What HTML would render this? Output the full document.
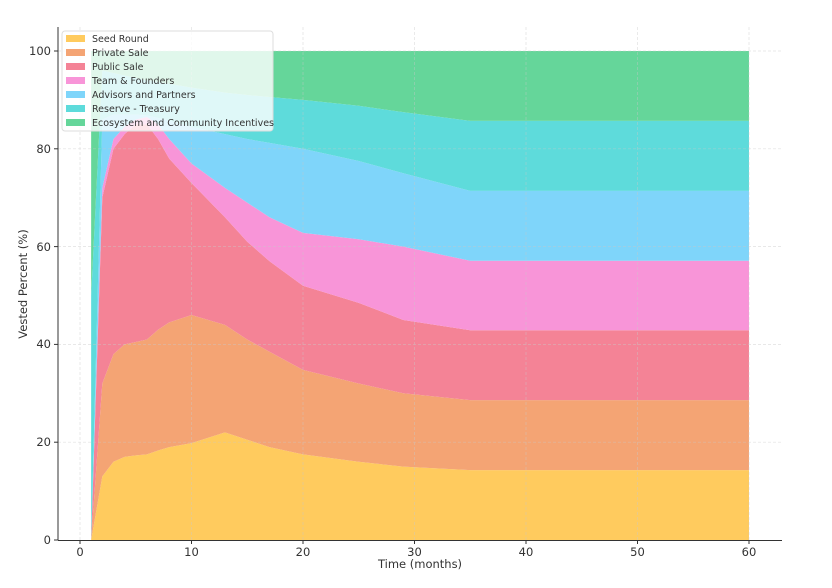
<!DOCTYPE html>
<html><head><meta charset="utf-8"><style>
body{margin:0;background:#fff;width:832px;height:583px;overflow:hidden;font-family:"Liberation Sans","DejaVu Sans",sans-serif}
</style></head><body>
<svg id="s" width="832" height="583" xmlns="http://www.w3.org/2000/svg" font-family="DejaVu Sans, Liberation Sans, sans-serif">
<g id="areas"></g>
<g stroke="#c8c8c8" stroke-width="0.7" stroke-dasharray="3,2" opacity="0.55">
<line x1="80" y1="27" x2="80" y2="540"/><line x1="191.5" y1="27" x2="191.5" y2="540"/><line x1="303" y1="27" x2="303" y2="540"/><line x1="414.5" y1="27" x2="414.5" y2="540"/><line x1="526" y1="27" x2="526" y2="540"/><line x1="637.5" y1="27" x2="637.5" y2="540"/><line x1="749" y1="27" x2="749" y2="540"/>
<line x1="58" y1="442.2" x2="782" y2="442.2"/><line x1="58" y1="344.4" x2="782" y2="344.4"/><line x1="58" y1="246.6" x2="782" y2="246.6"/><line x1="58" y1="148.8" x2="782" y2="148.8"/><line x1="58" y1="51" x2="782" y2="51"/>
</g>
<line x1="58" y1="27" x2="58" y2="540.5" stroke="#333" stroke-width="1"/>
<line x1="58" y1="540.5" x2="782" y2="540.5" stroke="#333" stroke-width="1"/>
<g stroke="#333"><line x1="80" y1="540" x2="80" y2="544"/><line x1="191.5" y1="540" x2="191.5" y2="544"/><line x1="303" y1="540" x2="303" y2="544"/><line x1="414.5" y1="540" x2="414.5" y2="544"/><line x1="526" y1="540" x2="526" y2="544"/><line x1="637.5" y1="540" x2="637.5" y2="544"/><line x1="749" y1="540" x2="749" y2="544"/>
<line x1="54" y1="540" x2="58" y2="540"/><line x1="54" y1="442.2" x2="58" y2="442.2"/><line x1="54" y1="344.4" x2="58" y2="344.4"/><line x1="54" y1="246.6" x2="58" y2="246.6"/><line x1="54" y1="148.8" x2="58" y2="148.8"/><line x1="54" y1="51" x2="58" y2="51"/></g>
<g font-size="11.5" fill="#333" text-anchor="middle">
<text x="80" y="556">0</text><text x="191.5" y="556">10</text><text x="303" y="556">20</text><text x="414.5" y="556">30</text><text x="526" y="556">40</text><text x="637.5" y="556">50</text><text x="749" y="556">60</text>
<text x="420" y="568">Time (months)</text>
</g>
<g font-size="11.5" fill="#333" text-anchor="end">
<text x="51" y="544">0</text><text x="51" y="446">20</text><text x="51" y="348">40</text><text x="51" y="251">60</text><text x="51" y="153">80</text><text x="51" y="55">100</text>
</g>
<text x="27" y="284" font-size="11.5" fill="#333" text-anchor="middle" transform="rotate(-90 27 284)">Vested Percent (%)</text>
<g>
<rect x="62" y="31" width="211" height="100" rx="3" fill="#fff" fill-opacity="0.8" stroke="#ddd"/>
<g font-size="9.5" fill="#333">
<rect x="66" y="35" width="19" height="7" fill="#FFCB5E"/><text x="92" y="42">Seed Round</text>
<rect x="66" y="49" width="19" height="7" fill="#F4A474"/><text x="92" y="56">Private Sale</text>
<rect x="66" y="63" width="19" height="7" fill="#F48396"/><text x="92" y="70">Public Sale</text>
<rect x="66" y="77" width="19" height="7" fill="#F895D8"/><text x="92" y="84">Team &amp; Founders</text>
<rect x="66" y="91" width="19" height="7" fill="#7FD5FA"/><text x="92" y="98">Advisors and Partners</text>
<rect x="66" y="105" width="19" height="7" fill="#5EDBDB"/><text x="92" y="112">Reserve - Treasury</text>
<rect x="66" y="119" width="19" height="7" fill="#65D69A"/><text x="92" y="126">Ecosystem and Community Incentives</text>
</g></g>
</svg>
<script>
var xs=[1,2,3,4,5,6,7,8,10,13,15,17,20,25,29,35,60];
var tops=[
[0,13,16,17,17.3,17.5,18.3,19,19.8,22,20.5,19,17.5,16,15,14.3,14.3],
[0,32,38,40,40.5,41,43,44.5,46,44,41,38.5,34.8,32,30,28.6,28.6],
[0,70,80,83,85,85,82,78,73,66,61,57,52,48.5,45,42.9,42.9],
[0,72,82,84.5,86,86.5,85,82,77,72,69,66,62.8,61.5,60,57.1,57.1],
[0,86,87,87,87,86.8,86.3,85.8,84.5,83,82,81.2,80,77.5,75,71.4,71.4],
[50,96,95.5,95,94.5,94,93.7,93.3,92.5,91.5,91,90.6,90,88.8,87.5,85.7,85.7],
[100,100,100,100,100,100,100,100,100,100,100,100,100,100,100,100,100]];
var cols=["#FFCB5E","#F4A474","#F48396","#F895D8","#7FD5FA","#5EDBDB","#65D69A"];
function X(x){return 80+11.15*x}function Y(y){return 540-4.89*y}
var g=document.getElementById("areas"),h="";
for(var k=0;k<7;k++){var p=[];for(var i=0;i<xs.length;i++)p.push(X(xs[i])+","+Y(tops[k][i]));
for(var i=xs.length-1;i>=0;i--)p.push(X(xs[i])+","+Y(k?tops[k-1][i]:0));
h+='<polygon fill="'+cols[k]+'" points="'+p.join(" ")+'"/>';}
g.innerHTML=h;
</script>
</body></html>
